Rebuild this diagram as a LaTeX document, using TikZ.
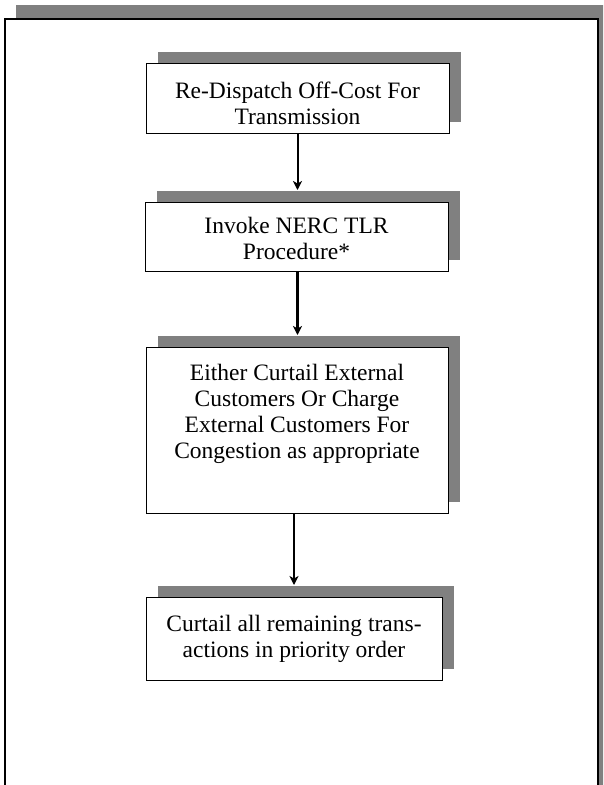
\documentclass[tikz,border=0pt]{standalone}
\usepackage{fontspec}
\setmainfont{Liberation Serif}
\usetikzlibrary{shadows,arrows.meta}

\begin{document}
\begin{tikzpicture}[x=1pt,y=1pt,
  stepbox/.style={draw,fill=white,line width=1pt,minimum width=303pt,
    align=center,inner sep=0pt,
    drop shadow={shadow xshift=11.5pt,shadow yshift=11.5pt,fill=gray,opacity=1}},
  flow/.style={-{Stealth[length=9pt,width=9pt,inset=2.5pt]},line width=2pt}]
\clip (0,0) rectangle (603,-785);
\fill[gray] (16,-4.6) rectangle (620,-800);
\draw[fill=white,line width=1.2pt] (5,-19) rectangle (598,-800);
\begin{scope}[font=\fontsize{23.5}{26}\selectfont]
\node[stepbox,minimum height=70pt] (dispatch) at (297.5,-98) {};
\node[align=center] (dispatchtxt) at ([yshift=-5pt]dispatch.center) {Re-Dispatch Off-Cost For\\Transmission};
\node[stepbox,minimum height=69pt] (tlr) at (296.5,-236.5) {};
\node[align=center] (tlrtxt) at ([yshift=-2pt]tlr.center) {Invoke NERC TLR\\Procedure*};
\node[stepbox,minimum width=302pt,minimum height=166pt] (curtailext) at (297,-430) {};
\node[align=center,anchor=north] (curtailtxt) at ([yshift=-14pt]curtailext.north) {Either Curtail External\\Customers Or Charge\\External Customers For\\Congestion as appropriate};
\node[stepbox,minimum width=296pt,minimum height=83pt] (curtailall) at (294,-638.5) {Curtail all remaining trans-\\actions in priority order};
\end{scope}
\draw[flow] (dispatch.south) -- ([yshift=11.5pt]tlr.north -| dispatch.south);
\draw[flow,line width=3pt] (tlr.south -| dispatch.south) -- ([yshift=11.5pt]curtailext.north -| dispatch.south);
\draw[flow] (curtailext.south -| curtailall.north) -- ([yshift=11.5pt]curtailall.north);
\end{tikzpicture}
\end{document}
